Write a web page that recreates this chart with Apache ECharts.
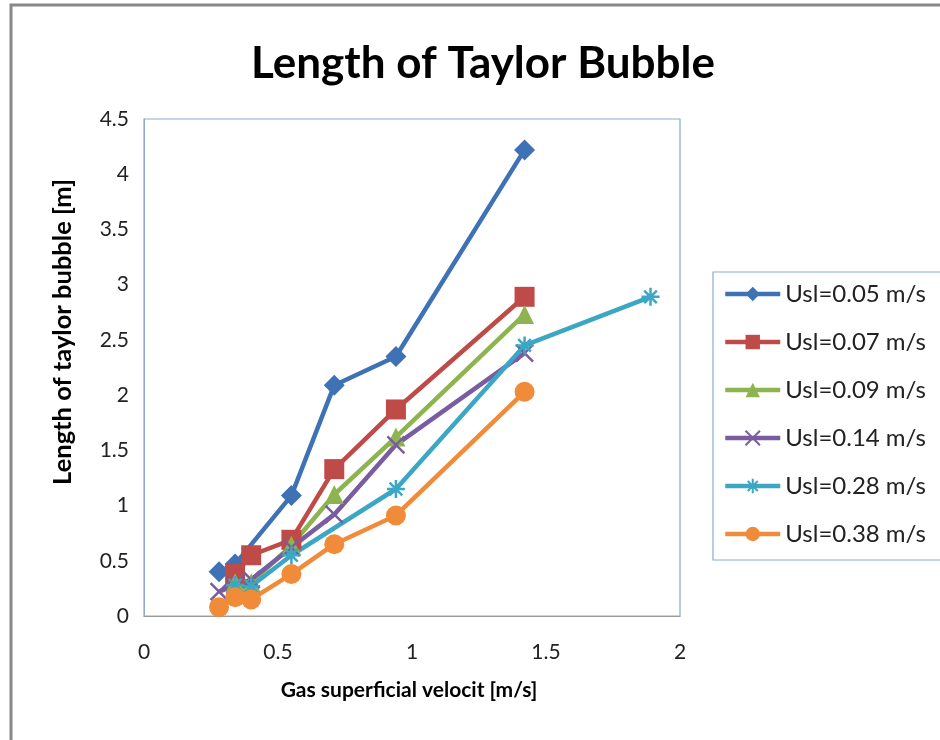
<!DOCTYPE html>
<html><head><meta charset="utf-8">
<script src="https://cdn.jsdelivr.net/npm/echarts@6/dist/echarts.min.js"></script>
<style>html,body{margin:0;padding:0;background:#fff}#c{width:940px;height:740px}</style>
</head><body><div id="c"></div>
<script>
const seriesNames = ['Usl=0.05 m/s','Usl=0.07 m/s','Usl=0.09 m/s','Usl=0.14 m/s','Usl=0.28 m/s','Usl=0.38 m/s'];
const usl005 = [[0.28,0.40],[0.34,0.47],[0.55,1.09],[0.71,2.09],[0.94,2.35],[1.42,4.22]];
const usl007 = [[0.34,0.38],[0.40,0.55],[0.55,0.69],[0.71,1.33],[0.94,1.87],[1.42,2.89]];
const usl009 = [[0.34,0.30],[0.40,0.30],[0.55,0.64],[0.71,1.10],[0.94,1.62],[1.42,2.73]];
const usl014 = [[0.28,0.22],[0.34,0.28],[0.40,0.33],[0.55,0.62],[0.71,0.92],[0.94,1.55],[1.42,2.38]];
const usl028 = [[0.34,0.28],[0.40,0.27],[0.55,0.55],[0.94,1.15],[1.42,2.45],[1.89,2.89]];
const usl038 = [[0.28,0.08],[0.34,0.17],[0.40,0.15],[0.55,0.38],[0.71,0.65],[0.94,0.91],[1.42,2.03]];
const xTitle = 'Gas superficial velocit [m/s]';
const yTitle = 'Length of taylor bubble [m]';
const chartTitle = 'Length of Taylor Bubble';
const allData = [usl005,usl007,usl009,usl014,usl028,usl038];
const colors = ['#3F72B4','#BE4B48','#8DB44F','#7A5CA0','#3BA7C4','#F08B3A'];
const symbols = ['diamond','rect','triangle',
  'path://M0,0L10,10M10,0L0,10',
  'path://M0,5L10,5M5,0L5,10M1.5,1.5L8.5,8.5M8.5,1.5L1.5,8.5',
  'circle'];
const sizes = [21,20,19,17,18,20];
const font = 'Lato, "Open Sans", sans-serif';
const chart = echarts.init(document.getElementById('c'));
chart.setOption({
  backgroundColor:'#fff',
  animation:false,
  title:{text:chartTitle,left:478,top:37,textAlign:'center',
    textStyle:{fontFamily:font,fontWeight:'bold',fontSize:44,color:'#000'}},
  graphic:[
    {type:'rect',shape:{x:11,y:5,width:960,height:760},style:{fill:'none',stroke:'#888',lineWidth:3},silent:true},
    {type:'text',x:63,y:332,rotation:Math.PI/2,style:{text:yTitle,fontFamily:font,fontWeight:'bold',fontSize:25.5,fill:'#000',textAlign:'center',textVerticalAlign:'middle'}},
    {type:'text',x:409,y:690,style:{text:xTitle,fontFamily:font,fontWeight:'bold',fontSize:21,fill:'#000',textAlign:'center',textVerticalAlign:'middle'}}
  ],
  grid:{left:144,right:260,top:119,bottom:124,show:true,borderColor:'#8EA9D4',borderWidth:1.2},
  legend:{orient:'vertical',left:713,top:272,width:260,padding:[10,40,14,10],itemGap:24,
    borderColor:'#8EA9D4',borderWidth:1.2,itemWidth:55,itemHeight:18,
    lineStyle:{width:4.5},
    textStyle:{fontFamily:font,fontSize:24,color:'#222'},data:seriesNames},
  xAxis:{type:'value',min:0,max:2,interval:0.5,
    axisLine:{show:true,lineStyle:{color:'#9A9A9A'}},axisTick:{show:false},splitLine:{show:false},
    axisLabel:{fontFamily:font,fontSize:21,color:'#222',margin:26}},
  yAxis:{type:'value',min:0,max:4.5,interval:0.5,
    axisLine:{show:true,lineStyle:{color:'#8EA9D4'}},axisTick:{show:false},splitLine:{show:false},
    axisLabel:{fontFamily:font,fontSize:21,color:'#222',margin:15}},
  series:allData.map((d,i)=>({
    name:seriesNames[i],type:'line',data:d,symbol:symbols[i],symbolSize:sizes[i],
    lineStyle:{color:colors[i],width:4.5},
    itemStyle:(i===3||i===4)?{color:'rgba(0,0,0,0)',borderColor:colors[i],borderWidth:2.5}:{color:colors[i]}
  }))
});
</script></body></html>
